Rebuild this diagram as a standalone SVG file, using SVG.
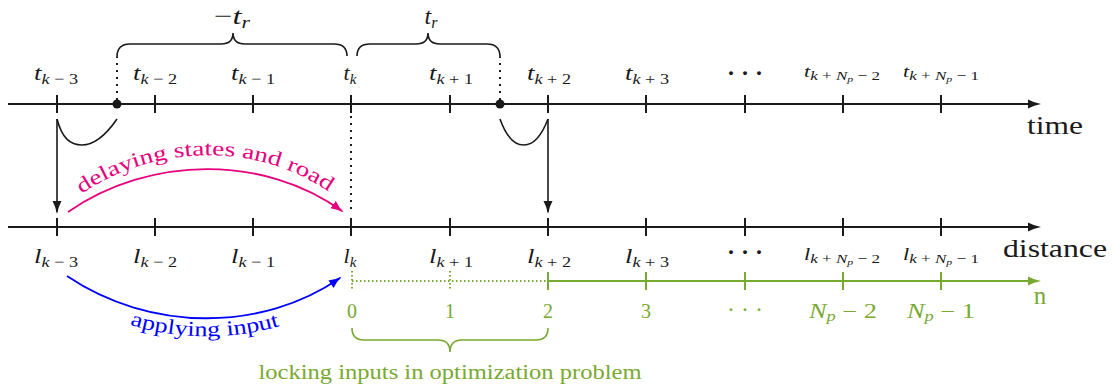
<svg xmlns="http://www.w3.org/2000/svg" width="1113" height="392" viewBox="0 0 1113 392">
<defs>
<marker id="ak" markerUnits="userSpaceOnUse" markerWidth="14" markerHeight="10" refX="6" refY="5" orient="auto"><path d="M0,0.5 Q6,3.8 13,5 Q6,6.2 0,9.5 Z" fill="#1a1a1a"/></marker>
<marker id="akc" markerUnits="userSpaceOnUse" markerWidth="14" markerHeight="10" refX="11" refY="5" orient="auto"><path d="M0,0.5 Q6,3.8 13,5 Q6,6.2 0,9.5 Z" fill="#1a1a1a"/></marker>
<marker id="am" markerUnits="userSpaceOnUse" markerWidth="14" markerHeight="10" refX="11" refY="5" orient="auto"><path d="M0,0.5 Q6,3.8 13,5 Q6,6.2 0,9.5 Z" fill="#e5007e"/></marker>
<marker id="ab" markerUnits="userSpaceOnUse" markerWidth="14" markerHeight="10" refX="11" refY="5" orient="auto"><path d="M0,0.5 Q6,3.8 13,5 Q6,6.2 0,9.5 Z" fill="#0000ff"/></marker>
<marker id="ag" markerUnits="userSpaceOnUse" markerWidth="14" markerHeight="10" refX="6" refY="5" orient="auto"><path d="M0,0.5 Q6,3.8 13,5 Q6,6.2 0,9.5 Z" fill="#78a931"/></marker>
<path id="pm" d="M74,199 C154,141 262,141 336,197"/>
<path id="pb" d="M64,294 C150,350 262,350 346,296"/>
</defs>
<style>
.ax{stroke:#1a1a1a;stroke-width:2;fill:none}
.tk{stroke:#1a1a1a;stroke-width:2}
.gax{stroke:#78a931;stroke-width:2;fill:none}
.gdot{stroke:#78a931;stroke-width:2;stroke-dasharray:1.5 2.5;fill:none}
.dot{stroke:#1a1a1a;stroke-width:2;stroke-dasharray:2 5;fill:none}
.cv{stroke:#1a1a1a;stroke-width:1.6;fill:none}
text{font-family:'Liberation Serif','DejaVu Serif','Times New Roman',serif;fill:#1a1a1a}
.m{font-size:22px;text-anchor:middle}
.s{font-size:21px;text-anchor:middle}
.i{font-style:italic}
.g{fill:#78a931}
</style>

<g id="time-axis">
<line class="ax" x1="8" y1="104" x2="1034" y2="104" marker-end="url(#ak)"/>
<g class="tk">
<line x1="57" y1="95" x2="57" y2="113"/><line x1="155" y1="95" x2="155" y2="113"/><line x1="253" y1="95" x2="253" y2="113"/><line x1="351" y1="95" x2="351" y2="113"/><line x1="450" y1="95" x2="450" y2="113"/><line x1="548" y1="95" x2="548" y2="113"/><line x1="646" y1="95" x2="646" y2="113"/><line x1="745" y1="95" x2="745" y2="113"/><line x1="843" y1="95" x2="843" y2="113"/><line x1="941" y1="95" x2="941" y2="113"/>
</g>
<circle cx="117" cy="104" r="4.5" fill="#1a1a1a"/>
<circle cx="500" cy="104" r="4.5" fill="#1a1a1a"/>
<text x="1055" y="134" style="font-size:26px;text-anchor:middle" textLength="56" lengthAdjust="spacingAndGlyphs">time</text>
</g>

<g id="time-labels">
<text class="m" x="56" y="80" textLength="44" lengthAdjust="spacingAndGlyphs"><tspan class="i">t</tspan><tspan font-size="15" dy="4"><tspan class="i">k</tspan> − 3</tspan></text>
<text class="m" x="155" y="80" textLength="44" lengthAdjust="spacingAndGlyphs"><tspan class="i">t</tspan><tspan font-size="15" dy="4"><tspan class="i">k</tspan> − 2</tspan></text>
<text class="m" x="253" y="80" textLength="44" lengthAdjust="spacingAndGlyphs"><tspan class="i">t</tspan><tspan font-size="15" dy="4"><tspan class="i">k</tspan> − 1</tspan></text>
<text class="m" x="350" y="80"><tspan class="i">t</tspan><tspan font-size="15" dy="4" class="i">k</tspan></text>
<text class="m" x="451" y="80" textLength="44" lengthAdjust="spacingAndGlyphs"><tspan class="i">t</tspan><tspan font-size="15" dy="4"><tspan class="i">k</tspan> + 1</tspan></text>
<text class="m" x="549" y="80" textLength="44" lengthAdjust="spacingAndGlyphs"><tspan class="i">t</tspan><tspan font-size="15" dy="4"><tspan class="i">k</tspan> + 2</tspan></text>
<text class="m" x="647" y="80" textLength="44" lengthAdjust="spacingAndGlyphs"><tspan class="i">t</tspan><tspan font-size="15" dy="4"><tspan class="i">k</tspan> + 3</tspan></text>
<text class="m" x="745" y="81" style="font-size:24px;font-weight:bold">· · ·</text>
<text class="m" x="842" y="77" style="font-size:17px" textLength="76" lengthAdjust="spacingAndGlyphs"><tspan class="i">t</tspan><tspan font-size="13" dy="3"><tspan class="i">k</tspan> + <tspan class="i">N</tspan><tspan font-size="9" dy="2" class="i">p</tspan><tspan dy="-2"> − 2</tspan></tspan></text>
<text class="m" x="941" y="77" style="font-size:17px" textLength="76" lengthAdjust="spacingAndGlyphs"><tspan class="i">t</tspan><tspan font-size="13" dy="3"><tspan class="i">k</tspan> + <tspan class="i">N</tspan><tspan font-size="9" dy="2" class="i">p</tspan><tspan dy="-2"> − 1</tspan></tspan></text>
</g>

<g id="braces">
<path class="cv" d="M117,57 Q117,44 130,44 L221,44 Q233,44 233,33 Q233,44 245,44 L334,44 Q347,44 347,56"/>
<path class="cv" d="M357,56 Q357,44 370,44 L416,44 Q428,44 428,33 Q428,44 440,44 L487,44 Q500,44 500,57"/>
<text class="m" x="232" y="24" style="font-size:24px" textLength="36" lengthAdjust="spacingAndGlyphs">−<tspan class="i">t</tspan><tspan font-size="16" dy="4" class="i">r</tspan></text>
<text class="m" x="431" y="24" style="font-size:24px"><tspan class="i">t</tspan><tspan font-size="16" dy="4" class="i">r</tspan></text>
</g>

<g id="distance-axis">
<line class="ax" x1="8" y1="227" x2="1034" y2="227" marker-end="url(#ak)"/>
<g class="tk">
<line x1="57" y1="218" x2="57" y2="236"/><line x1="155" y1="218" x2="155" y2="236"/><line x1="253" y1="218" x2="253" y2="236"/><line x1="351" y1="218" x2="351" y2="236"/><line x1="450" y1="218" x2="450" y2="236"/><line x1="548" y1="218" x2="548" y2="236"/><line x1="646" y1="218" x2="646" y2="236"/><line x1="745" y1="218" x2="745" y2="236"/><line x1="843" y1="218" x2="843" y2="236"/><line x1="941" y1="218" x2="941" y2="236"/>
</g>
<text x="1055" y="257" style="font-size:26px;text-anchor:middle" textLength="104" lengthAdjust="spacingAndGlyphs">distance</text>
</g>

<g id="distance-labels">
<text class="m" x="56" y="263" textLength="44" lengthAdjust="spacingAndGlyphs"><tspan class="i">l</tspan><tspan font-size="15" dy="4"><tspan class="i">k</tspan> − 3</tspan></text>
<text class="m" x="155" y="263" textLength="44" lengthAdjust="spacingAndGlyphs"><tspan class="i">l</tspan><tspan font-size="15" dy="4"><tspan class="i">k</tspan> − 2</tspan></text>
<text class="m" x="253" y="263" textLength="44" lengthAdjust="spacingAndGlyphs"><tspan class="i">l</tspan><tspan font-size="15" dy="4"><tspan class="i">k</tspan> − 1</tspan></text>
<text class="m" x="350" y="263"><tspan class="i">l</tspan><tspan font-size="15" dy="4" class="i">k</tspan></text>
<text class="m" x="451" y="263" textLength="44" lengthAdjust="spacingAndGlyphs"><tspan class="i">l</tspan><tspan font-size="15" dy="4"><tspan class="i">k</tspan> + 1</tspan></text>
<text class="m" x="549" y="263" textLength="44" lengthAdjust="spacingAndGlyphs"><tspan class="i">l</tspan><tspan font-size="15" dy="4"><tspan class="i">k</tspan> + 2</tspan></text>
<text class="m" x="647" y="263" textLength="44" lengthAdjust="spacingAndGlyphs"><tspan class="i">l</tspan><tspan font-size="15" dy="4"><tspan class="i">k</tspan> + 3</tspan></text>
<text class="m" x="745" y="260" style="font-size:24px;font-weight:bold">· · ·</text>
<text class="m" x="842" y="260" style="font-size:17px" textLength="76" lengthAdjust="spacingAndGlyphs"><tspan class="i">l</tspan><tspan font-size="13" dy="3"><tspan class="i">k</tspan> + <tspan class="i">N</tspan><tspan font-size="9" dy="2" class="i">p</tspan><tspan dy="-2"> − 2</tspan></tspan></text>
<text class="m" x="941" y="260" style="font-size:17px" textLength="76" lengthAdjust="spacingAndGlyphs"><tspan class="i">l</tspan><tspan font-size="13" dy="3"><tspan class="i">k</tspan> + <tspan class="i">N</tspan><tspan font-size="9" dy="2" class="i">p</tspan><tspan dy="-2"> − 1</tspan></tspan></text>
</g>

<g id="n-axis">
<line class="gdot" x1="352" y1="281" x2="548" y2="281"/>
<line class="gdot" x1="352" y1="271" x2="352" y2="291"/>
<line class="gdot" x1="450" y1="271" x2="450" y2="291"/>
<line class="gax" x1="548" y1="281" x2="1034" y2="281" marker-end="url(#ag)"/>
<g class="gax">
<line x1="548" y1="272" x2="548" y2="290"/><line x1="646" y1="272" x2="646" y2="290"/><line x1="745" y1="272" x2="745" y2="290"/><line x1="843" y1="272" x2="843" y2="290"/><line x1="941" y1="272" x2="941" y2="290"/>
</g>
<text class="g" x="1040" y="304" style="font-size:25px;text-anchor:middle">n</text>
<text class="s g" x="352" y="318" style="font-size:20px">0</text>
<text class="s g" x="450" y="318" style="font-size:20px">1</text>
<text class="s g" x="548" y="318" style="font-size:20px">2</text>
<text class="s g" x="646" y="318" style="font-size:20px">3</text>
<text class="s g" x="745" y="317" style="font-size:24px">· · ·</text>
<text class="s g" x="843" y="318" style="font-size:20px" textLength="68" lengthAdjust="spacingAndGlyphs"><tspan class="i">N</tspan><tspan font-size="14" dy="3" class="i">p</tspan><tspan dy="-3"> − 2</tspan></text>
<text class="s g" x="941" y="318" style="font-size:20px" textLength="68" lengthAdjust="spacingAndGlyphs"><tspan class="i">N</tspan><tspan font-size="14" dy="3" class="i">p</tspan><tspan dy="-3"> − 1</tspan></text>
</g>

<g id="lock-brace">
<path d="M352,328 Q352,340 364,340 L438,340 Q450,340 450,352 Q450,340 462,340 L536,340 Q548,340 548,328" style="stroke:#78a931;stroke-width:1.6;fill:none"/>
<text class="g" x="450" y="379" style="font-size:20px;text-anchor:middle" textLength="383" lengthAdjust="spacingAndGlyphs">locking inputs in optimization problem</text>
</g>

<g id="connectors">
<line class="dot" x1="117" y1="100" x2="117" y2="57"/>
<line class="dot" x1="500" y1="100" x2="500" y2="57"/>
<line class="dot" x1="351" y1="116" x2="351" y2="214"/>
<path class="cv" d="M57,119 C62,138 70,145 82,145 C96,145 108,132 117,119"/>
<path class="cv" d="M500,119 C506,136 514,145 524,145 C536,145 543,132 548,119"/>
<line class="cv" x1="57" y1="119" x2="57" y2="212" marker-end="url(#akc)"/>
<line class="cv" x1="548" y1="119" x2="548" y2="212" marker-end="url(#akc)"/>
<path d="M68,212 C150,155 265,155 342,211" style="stroke:#e5007e;stroke-width:1.8;fill:none" marker-end="url(#am)"/>
<path d="M67,276 C150,332 262,332 340,278" style="stroke:#0000ff;stroke-width:1.8;fill:none" marker-end="url(#ab)"/>
<text style="font-size:21px;fill:#e5007e"><textPath href="#pm" startOffset="50%" text-anchor="middle" textLength="262" lengthAdjust="spacingAndGlyphs">delaying states and road</textPath></text>
<text style="font-size:21px;fill:#0000ff"><textPath href="#pb" startOffset="50%" text-anchor="middle" textLength="152" lengthAdjust="spacingAndGlyphs">applying input</textPath></text>
</g>
</svg>
